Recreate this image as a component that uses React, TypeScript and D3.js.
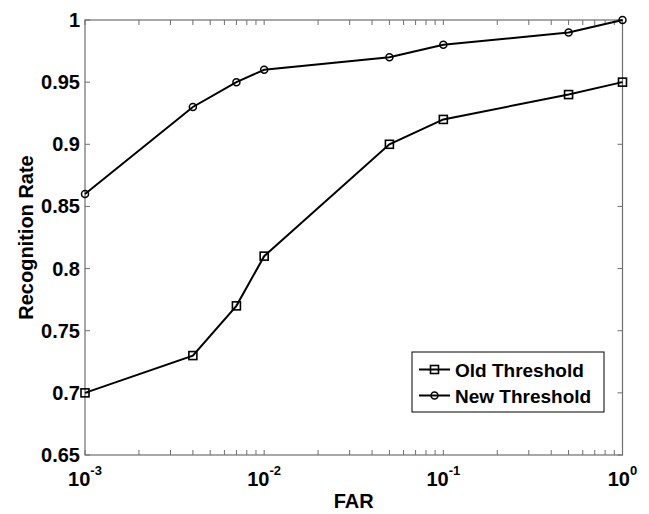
import React from "react";
import * as d3 from "d3";

const farValues = [0.001, 0.004, 0.007, 0.01, 0.05, 0.1, 0.5, 1];
const oldThreshold = [0.7, 0.73, 0.77, 0.81, 0.9, 0.92, 0.94, 0.95];
const newThreshold = [0.86, 0.93, 0.95, 0.96, 0.97, 0.98, 0.99, 1.0];
const yTicks = [0.65, 0.7, 0.75, 0.8, 0.85, 0.9, 0.95, 1];
const yTickLabels = ["0.65", "0.7", "0.75", "0.8", "0.85", "0.9", "0.95", "1"];
const xMajorTicks = [0.001, 0.01, 0.1, 1];
const xExponents = ["-3", "-2", "-1", "0"];
const seriesNames = ["Old Threshold", "New Threshold"];

const W = 649;
const H = 514;
const L = 85, R = 622.5, T = 20, B = 455;
const FONT = "'Liberation Sans', Arial, Helvetica, sans-serif";

export default function App() {
  const x = d3.scaleLog().domain([0.001, 1]).range([L, R]);
  const y = d3.scaleLinear().domain([0.65, 1]).range([B, T]);
  const line = d3
    .line<[number, number]>()
    .x((d) => x(d[0]))
    .y((d) => y(d[1]));
  const oldPts: [number, number][] = farValues.map((f, i) => [f, oldThreshold[i]]);
  const newPts: [number, number][] = farValues.map((f, i) => [f, newThreshold[i]]);

  const minor: number[] = [];
  for (let k = -3; k < 0; k++) {
    for (let m = 2; m <= 9; m++) minor.push(m * Math.pow(10, k));
  }
  const axisColor = "#6e6e6e";
  const tl = 5;
  const sq = 8;
  const cr = 3.5;

  // legend geometry
  const lgL = 412, lgR = 604, lgT = 352, lgB = 412;
  const rowY = [369.5, 395.5];

  return (
    <svg
      width={W}
      height={H}
      style={{ position: "absolute", left: 0, top: 0, background: "#fff" }}
      fontFamily={FONT}
    >
      <rect x={0} y={0} width={W} height={H} fill="#fff" />
      {yTicks.map((t) => (
        <g key={"yt" + t} stroke={axisColor} strokeWidth={1}>
          <line x1={L} x2={L + tl} y1={y(t)} y2={y(t)} />
          <line x1={R} x2={R - tl} y1={y(t)} y2={y(t)} />
        </g>
      ))}
      {xMajorTicks.concat(minor).map((t) => (
        <g key={"xt" + t} stroke={axisColor} strokeWidth={1}>
          <line x1={x(t)} x2={x(t)} y1={B} y2={B - tl} />
          <line x1={x(t)} x2={x(t)} y1={T} y2={T + tl} />
        </g>
      ))}
      <rect x={L} y={T} width={R - L} height={B - T} fill="none" stroke={axisColor} strokeWidth={1.2} />
      {yTicks.map((t, i) => (
        <text
          key={"yl" + t}
          x={L - 5}
          y={y(t) + 7}
          textAnchor="end"
          fontSize={20}
          fontWeight="bold"
          fill="#000"
        >
          {yTickLabels[i]}
        </text>
      ))}
      {xMajorTicks.map((t, i) => (
        <text
          key={"xl" + t}
          x={x(t)}
          y={486}
          textAnchor="middle"
          fontSize={20}
          fontWeight="bold"
          fill="#000"
        >
          <tspan>10</tspan>
          <tspan dy={-11} fontSize={13}>
            {xExponents[i]}
          </tspan>
        </text>
      ))}
      <text x={(L + R) / 2} y={508} textAnchor="middle" fontSize={20} fontWeight="bold" fill="#000">
        FAR
      </text>
      <text
        transform={`translate(33, ${(T + B) / 2}) rotate(-90)`}
        textAnchor="middle"
        fontSize={20}
        fontWeight="bold"
        fill="#000"
      >
        Recognition Rate
      </text>
      <path d={line(oldPts) || ""} fill="none" stroke="#000" strokeWidth={2} />
      <path d={line(newPts) || ""} fill="none" stroke="#000" strokeWidth={2} />
      {oldPts.map((p, i) => (
        <rect
          key={"os" + i}
          x={x(p[0]) - sq / 2}
          y={y(p[1]) - sq / 2}
          width={sq}
          height={sq}
          fill="none"
          stroke="#000"
          strokeWidth={1.6}
        />
      ))}
      {newPts.map((p, i) => (
        <circle key={"nc" + i} cx={x(p[0])} cy={y(p[1])} r={cr} fill="none" stroke="#000" strokeWidth={1.5} />
      ))}
      <rect x={lgL} y={lgT} width={lgR - lgL} height={lgB - lgT} fill="#fff" stroke="#000" strokeWidth={1} />
      {seriesNames.map((name, i) => (
        <g key={"lg" + i}>
          <line x1={lgL + 7} x2={lgL + 38} y1={rowY[i]} y2={rowY[i]} stroke="#000" strokeWidth={2} />
          {i === 0 ? (
            <rect
              x={lgL + 22.5 - sq / 2}
              y={rowY[i] - sq / 2}
              width={sq}
              height={sq}
              fill="none"
              stroke="#000"
              strokeWidth={1.6}
            />
          ) : (
            <circle cx={lgL + 22.5} cy={rowY[i]} r={cr} fill="none" stroke="#000" strokeWidth={1.5} />
          )}
          <text x={lgL + 43} y={rowY[i] + 7} fontSize={19} fontWeight="bold" fill="#000">
            {name}
          </text>
        </g>
      ))}
    </svg>
  );
}
